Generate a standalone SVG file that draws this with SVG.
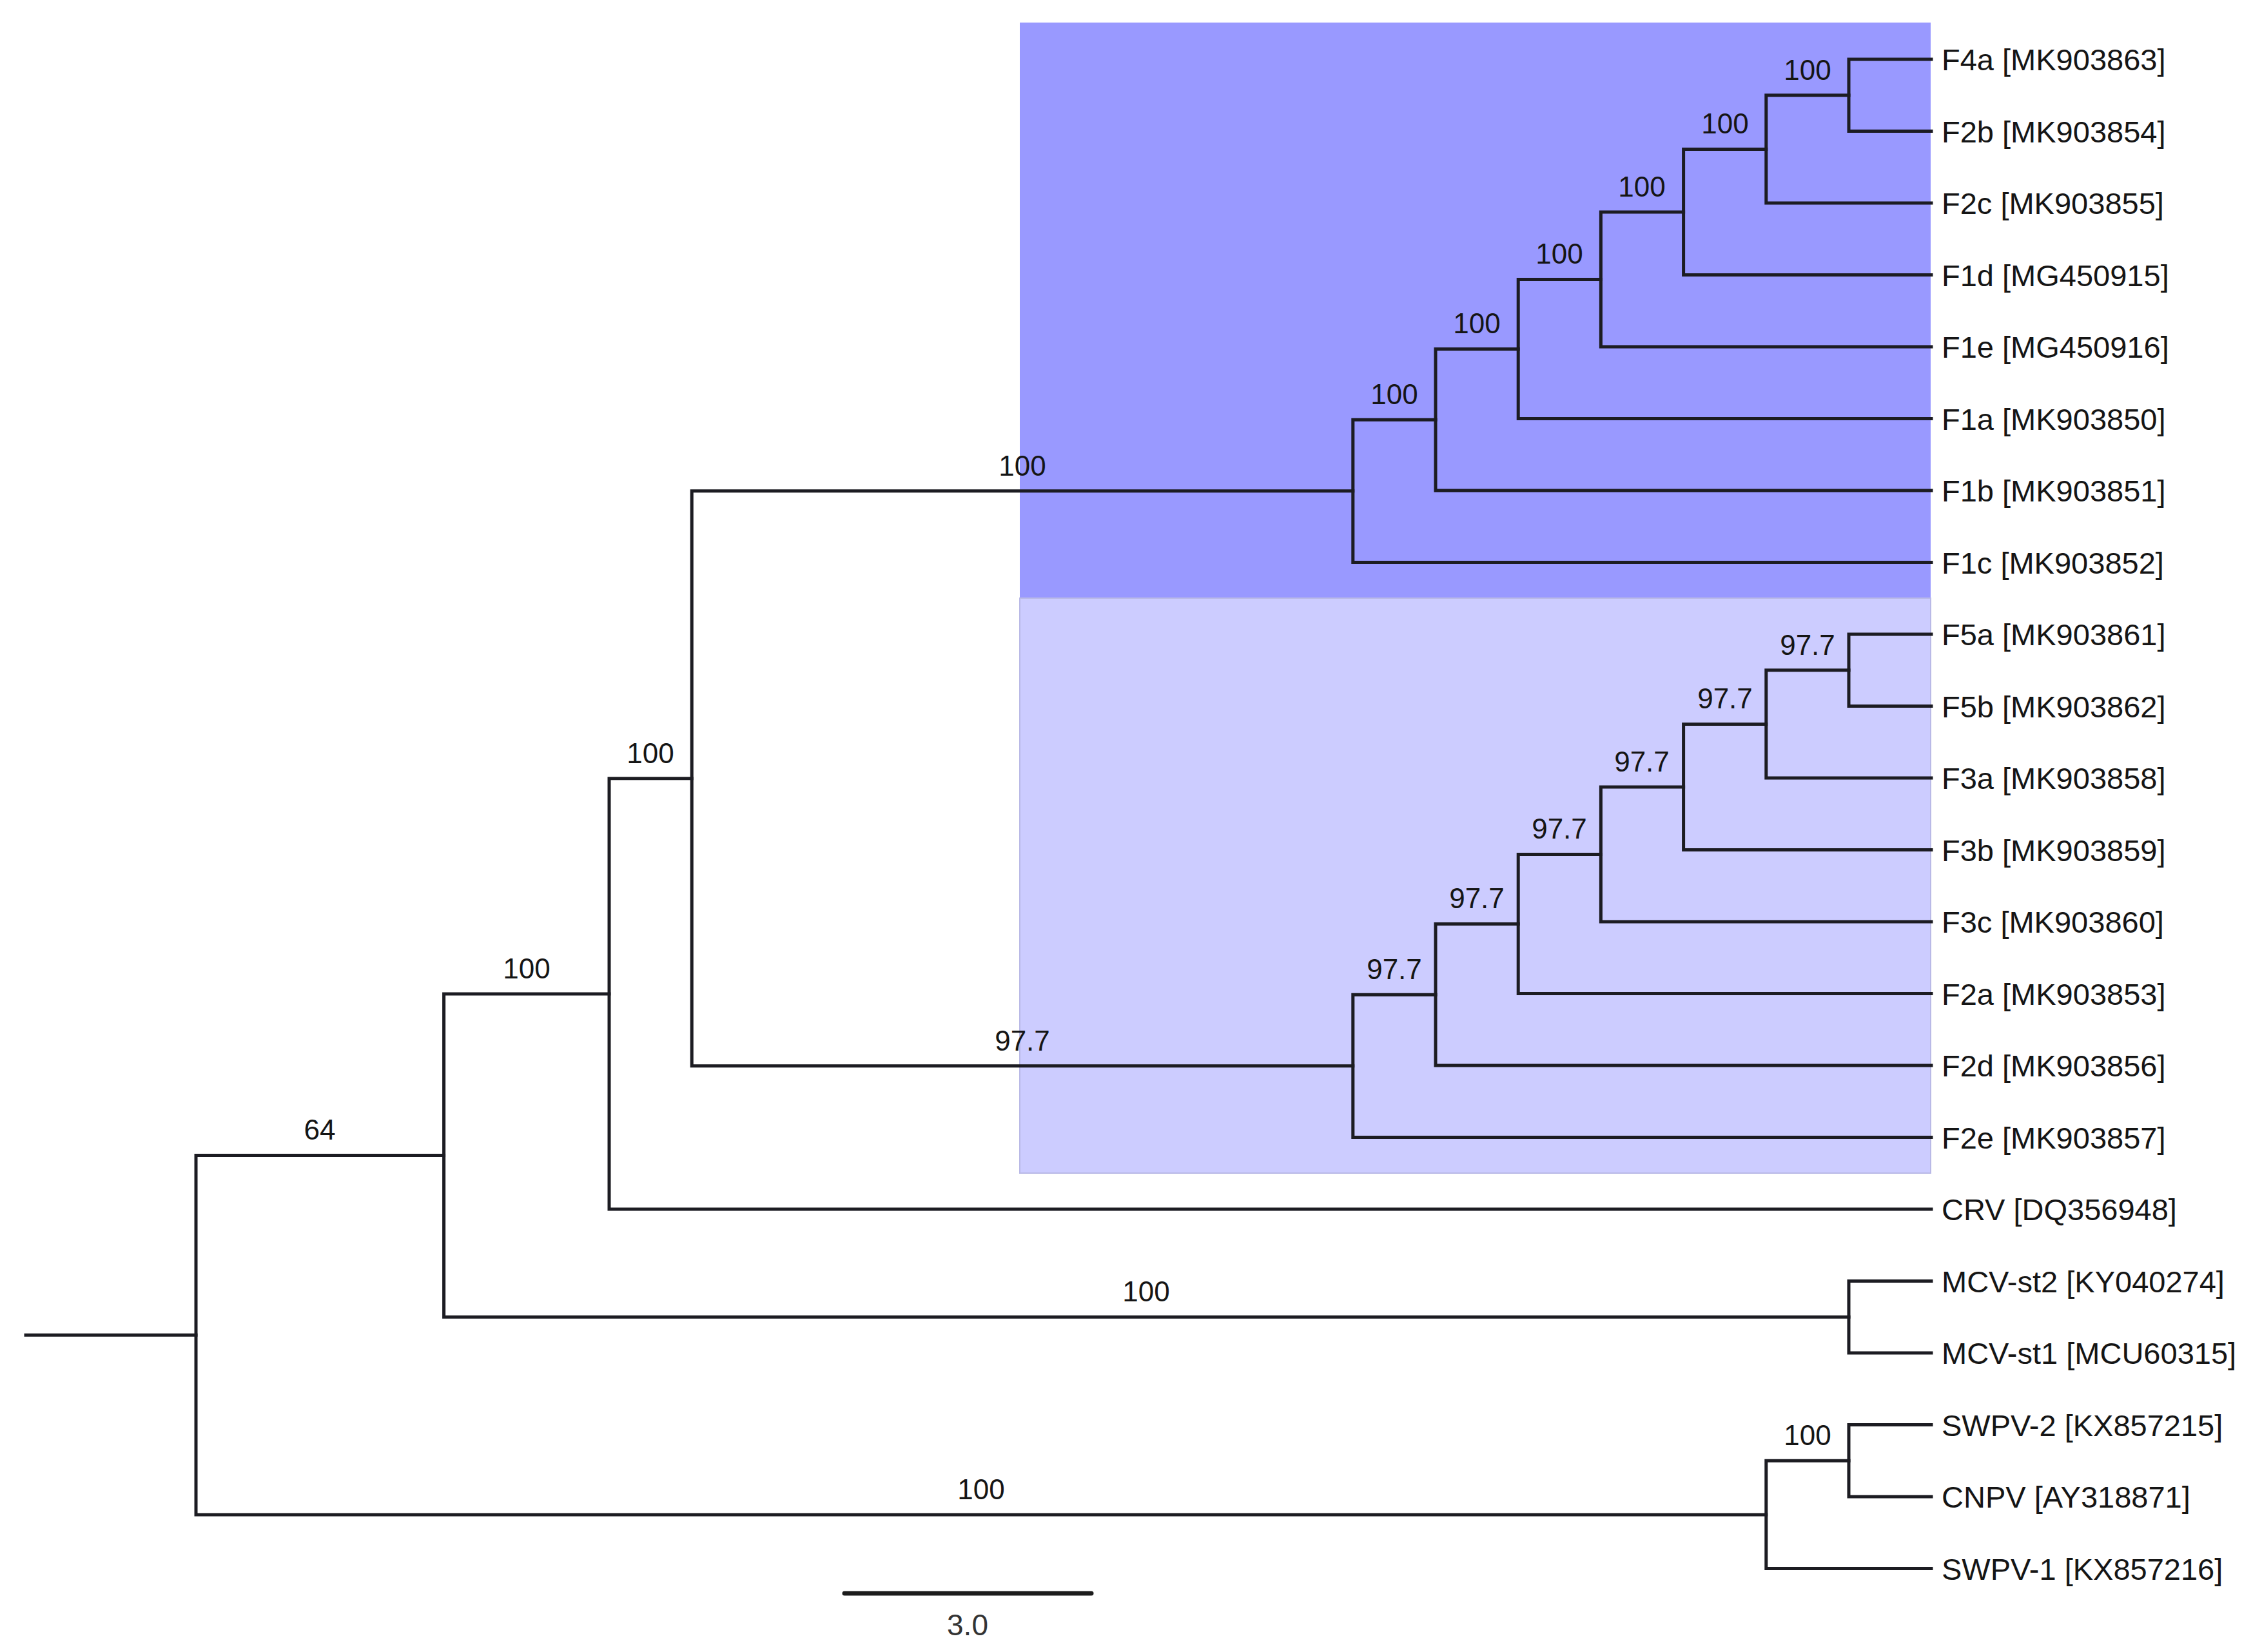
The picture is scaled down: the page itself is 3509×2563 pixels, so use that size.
<svg xmlns="http://www.w3.org/2000/svg" width="3509" height="2563" viewBox="0 0 3509 2563">
<style>
.br{stroke:#1c1c22;stroke-width:5;fill:none;stroke-linecap:square}
.leaf{font-family:"Liberation Sans",Arial,sans-serif;font-size:47px;fill:#151515}
.bs{font-family:"Liberation Sans",Arial,sans-serif;font-size:44px;fill:#151515;text-anchor:middle}
.sc{font-family:"Liberation Sans",Arial,sans-serif;font-size:46px;fill:#333;text-anchor:middle}
</style>
<rect x="0" y="0" width="3509" height="2563" fill="#ffffff"/>
<g id="clade-highlights">
<rect id="clade1" x="1582" y="35" width="1413" height="893" fill="#9999ff"/>
<rect id="clade2" x="1582" y="928" width="1413" height="892" fill="#ccccff" stroke="#b9b9e6" stroke-width="2"/>
</g>
<g id="connectors" class="br">
<path d="M40 2071.24H304"/>
<path d="M304 1792.6V2349.88M304 1792.6H688.6M304 2349.88H2739.8"/>
<path d="M688.6 1541.94V2043.25M688.6 1541.94H945M688.6 2043.25H2868"/>
<path d="M945 1207.87V1876M945 1207.87H1073.2M945 1876H2996"/>
<path d="M1073.2 761.87V1653.87M1073.2 761.87H2098.8M1073.2 1653.87H2098.8"/>
<path d="M2098.8 651.24V872.5M2098.8 651.24H2227M2098.8 872.5H2996"/>
<path d="M2227 541.48V761M2227 541.48H2355.2M2227 761H2996"/>
<path d="M2355.2 433.47V649.5M2355.2 433.47H2483.4M2355.2 649.5H2996"/>
<path d="M2483.4 328.94V538M2483.4 328.94H2611.6M2483.4 538H2996"/>
<path d="M2611.6 231.38V426.5M2611.6 231.38H2739.8M2611.6 426.5H2996"/>
<path d="M2739.8 147.75V315M2739.8 147.75H2868M2739.8 315H2996"/>
<path d="M2868 92V203.5M2868 92H2996M2868 203.5H2996"/>
<path d="M2098.8 1543.24V1764.5M2098.8 1543.24H2227M2098.8 1764.5H2996"/>
<path d="M2227 1433.48V1653M2227 1433.48H2355.2M2227 1653H2996"/>
<path d="M2355.2 1325.47V1541.5M2355.2 1325.47H2483.4M2355.2 1541.5H2996"/>
<path d="M2483.4 1220.94V1430M2483.4 1220.94H2611.6M2483.4 1430H2996"/>
<path d="M2611.6 1123.38V1318.5M2611.6 1123.38H2739.8M2611.6 1318.5H2996"/>
<path d="M2739.8 1039.75V1207M2739.8 1039.75H2868M2739.8 1207H2996"/>
<path d="M2868 984V1095.5M2868 984H2996M2868 1095.5H2996"/>
<path d="M2868 1987.5V2099M2868 1987.5H2996M2868 2099H2996"/>
<path d="M2739.8 2266.25V2433.5M2739.8 2266.25H2868M2739.8 2433.5H2996"/>
<path d="M2868 2210.5V2322M2868 2210.5H2996M2868 2322H2996"/>
</g>
<g id="bootstrap">
<text class="bs" x="496" y="1768">64</text>
<text class="bs" x="817" y="1518">100</text>
<text class="bs" x="1009" y="1184">100</text>
<text class="bs" x="1586" y="738">100</text>
<text class="bs" x="2163" y="627">100</text>
<text class="bs" x="2291" y="517">100</text>
<text class="bs" x="2419" y="409">100</text>
<text class="bs" x="2547" y="305">100</text>
<text class="bs" x="2676" y="207">100</text>
<text class="bs" x="2804" y="124">100</text>
<text class="bs" x="1586" y="1630">97.7</text>
<text class="bs" x="2163" y="1519">97.7</text>
<text class="bs" x="2291" y="1409">97.7</text>
<text class="bs" x="2419" y="1301">97.7</text>
<text class="bs" x="2547" y="1197">97.7</text>
<text class="bs" x="2676" y="1099">97.7</text>
<text class="bs" x="2804" y="1016">97.7</text>
<text class="bs" x="1778" y="2019">100</text>
<text class="bs" x="1522" y="2326">100</text>
<text class="bs" x="2804" y="2242">100</text>
</g>
<g id="leaves" class="leaf">
<g id="leaf-F4a"><text x="3012" y="109">F4a [MK903863]</text></g>
<g id="leaf-F2b"><text x="3012" y="220.5">F2b [MK903854]</text></g>
<g id="leaf-F2c"><text x="3012" y="332">F2c [MK903855]</text></g>
<g id="leaf-F1d"><text x="3012" y="443.5">F1d [MG450915]</text></g>
<g id="leaf-F1e"><text x="3012" y="555">F1e [MG450916]</text></g>
<g id="leaf-F1a"><text x="3012" y="666.5">F1a [MK903850]</text></g>
<g id="leaf-F1b"><text x="3012" y="778">F1b [MK903851]</text></g>
<g id="leaf-F1c"><text x="3012" y="889.5">F1c [MK903852]</text></g>
<g id="leaf-F5a"><text x="3012" y="1001">F5a [MK903861]</text></g>
<g id="leaf-F5b"><text x="3012" y="1112.5">F5b [MK903862]</text></g>
<g id="leaf-F3a"><text x="3012" y="1224">F3a [MK903858]</text></g>
<g id="leaf-F3b"><text x="3012" y="1335.5">F3b [MK903859]</text></g>
<g id="leaf-F3c"><text x="3012" y="1447">F3c [MK903860]</text></g>
<g id="leaf-F2a"><text x="3012" y="1558.5">F2a [MK903853]</text></g>
<g id="leaf-F2d"><text x="3012" y="1670">F2d [MK903856]</text></g>
<g id="leaf-F2e"><text x="3012" y="1781.5">F2e [MK903857]</text></g>
<g id="leaf-CRV"><text x="3012" y="1893">CRV [DQ356948]</text></g>
<g id="leaf-MCV-st2"><text x="3012" y="2004.5">MCV-st2 [KY040274]</text></g>
<g id="leaf-MCV-st1"><text x="3012" y="2116">MCV-st1 [MCU60315]</text></g>
<g id="leaf-SWPV-2"><text x="3012" y="2227.5">SWPV-2 [KX857215]</text></g>
<g id="leaf-CNPV"><text x="3012" y="2339">CNPV [AY318871]</text></g>
<g id="leaf-SWPV-1"><text x="3012" y="2450.5">SWPV-1 [KX857216]</text></g>
</g>
<g id="scale-bar">
<line x1="1310" y1="2472" x2="1693" y2="2472" stroke="#1c1c1c" stroke-width="7" stroke-linecap="round"/>
<text class="sc" x="1501" y="2537">3.0</text>
</g>
</svg>
